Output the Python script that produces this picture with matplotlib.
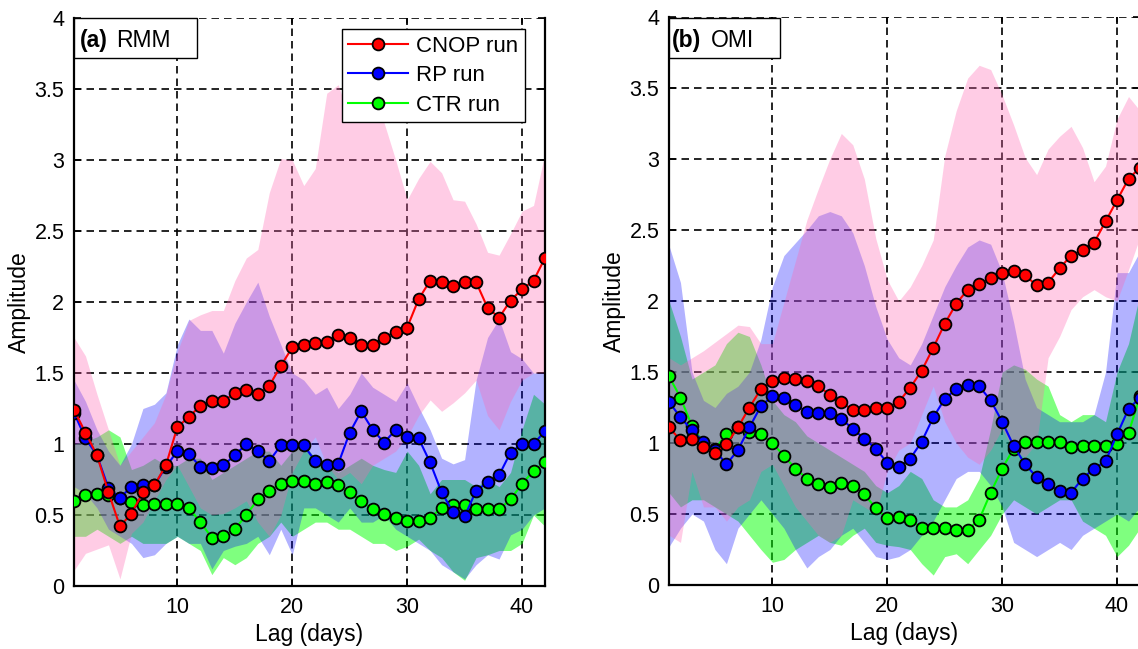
import matplotlib
matplotlib.use('Agg')
import matplotlib.pyplot as plt
from matplotlib.patches import Rectangle

plt.rcParams['font.family'] = ['Liberation Sans', 'DejaVu Sans']

# --- DADOS ---
lag = list(range(1, 43))
xticks = [10, 20, 30, 40]
yticks = [0, 0.5, 1, 1.5, 2, 2.5, 3, 3.5, 4]
ytick_labels = ['0', '0.5', '1', '1.5', '2', '2.5', '3', '3.5', '4']
run_labels = ['CNOP run', 'RP run', 'CTR run']
panel_tags = ['(a)', '(b)']
panel_names = ['RMM', 'OMI']

# painel (a) RMM
cnop_rmm = [1.24, 1.08, 0.92, 0.66, 0.42, 0.51, 0.66, 0.71, 0.85, 1.12, 1.19, 1.27, 1.30, 1.30,
            1.36, 1.38, 1.35, 1.41, 1.55, 1.68, 1.70, 1.71, 1.72, 1.77, 1.75, 1.70, 1.70, 1.75,
            1.79, 1.82, 2.02, 2.15, 2.14, 2.11, 2.14, 2.14, 1.96, 1.89, 2.01, 2.09, 2.15, 2.31]
rp_rmm = [1.22, 1.04, 0.92, 0.69, 0.62, 0.70, 0.71, 0.71, 0.84, 0.95, 0.93, 0.84, 0.83, 0.85,
          0.92, 1.00, 0.95, 0.88, 0.99, 0.99, 0.99, 0.88, 0.85, 0.86, 1.08, 1.23, 1.10, 1.01,
          1.10, 1.05, 1.04, 0.87, 0.66, 0.52, 0.49, 0.67, 0.73, 0.78, 0.94, 1.00, 1.00, 1.09]
ctr_rmm = [0.60, 0.64, 0.65, 0.64, 0.62, 0.59, 0.57, 0.58, 0.58, 0.58, 0.55, 0.45, 0.34, 0.35,
           0.40, 0.50, 0.61, 0.67, 0.72, 0.74, 0.74, 0.72, 0.73, 0.71, 0.66, 0.60, 0.54, 0.51,
           0.48, 0.46, 0.46, 0.48, 0.55, 0.57, 0.57, 0.54, 0.54, 0.54, 0.61, 0.72, 0.81, 0.87]

cnop_hi_rmm = [1.75, 1.62, 1.35, 1.10, 0.85, 0.95, 1.05, 1.15, 1.35, 1.65, 1.87, 1.91, 1.94, 1.94,
               2.15, 2.31, 2.37, 2.77, 3.01, 3.00, 2.82, 2.94, 3.47, 3.53, 3.29, 3.27, 3.49, 3.26,
               3.00, 2.72, 2.87, 2.99, 2.91, 2.72, 2.71, 2.55, 2.35, 2.33, 2.48, 2.64, 2.68, 3.05]
cnop_lo_rmm = [0.11, 0.23, 0.26, 0.29, 0.05, 0.37, 0.45, 0.60, 0.75, 0.85, 0.70, 0.55, 0.50, 0.51,
               0.55, 0.60, 0.45, 0.35, 0.50, 0.80, 0.95, 1.05, 0.85, 0.75, 0.80, 0.72, 0.85, 0.90,
               0.95, 1.05, 1.20, 1.31, 1.23, 1.29, 1.36, 1.45, 1.20, 1.10, 1.30, 1.45, 1.50, 1.50]
rp_hi_rmm = [1.45, 1.30, 1.10, 0.95, 0.85, 1.00, 1.25, 1.28, 1.36, 1.70, 1.88, 1.80, 1.80, 1.64,
             1.85, 2.00, 2.14, 1.90, 1.70, 1.50, 1.45, 1.35, 1.40, 1.25, 1.35, 1.50, 1.40, 1.35,
             1.30, 1.43, 1.26, 1.10, 0.90, 0.86, 0.89, 1.45, 1.75, 1.88, 1.65, 1.60, 1.50, 1.50]
rp_lo_rmm = [0.70, 0.65, 0.55, 0.40, 0.35, 0.30, 0.20, 0.22, 0.30, 0.35, 0.30, 0.30, 0.12, 0.25,
             0.28, 0.30, 0.35, 0.22, 0.40, 0.22, 0.55, 0.55, 0.50, 0.45, 0.55, 0.45, 0.45, 0.50,
             0.40, 0.35, 0.30, 0.25, 0.15, 0.10, 0.05, 0.15, 0.22, 0.19, 0.36, 0.40, 0.50, 0.55]
ctr_hi_rmm = [1.00, 1.02, 1.05, 1.10, 1.05, 0.82, 0.85, 0.90, 0.85, 0.85, 0.90, 0.90, 0.75, 0.80,
              0.85, 0.90, 0.95, 0.95, 0.85, 0.95, 1.00, 0.90, 0.85, 0.80, 0.85, 0.90, 0.85, 0.82,
              0.80, 0.95, 0.85, 0.65, 0.75, 0.75, 0.75, 0.70, 0.75, 0.70, 0.80, 1.10, 1.35, 1.28]
ctr_lo_rmm = [0.35, 0.35, 0.40, 0.35, 0.30, 0.35, 0.30, 0.30, 0.30, 0.35, 0.30, 0.25, 0.08, 0.20,
              0.15, 0.20, 0.30, 0.35, 0.45, 0.35, 0.40, 0.45, 0.45, 0.40, 0.40, 0.35, 0.30, 0.30,
              0.25, 0.28, 0.33, 0.25, 0.20, 0.10, 0.04, 0.20, 0.22, 0.25, 0.25, 0.30, 0.50, 0.42]

# painel (b) OMI
cnop_omi = [1.11, 1.02, 1.03, 0.97, 0.93, 0.99, 1.11, 1.25, 1.38, 1.44, 1.46, 1.45, 1.44, 1.40,
            1.34, 1.29, 1.23, 1.23, 1.25, 1.25, 1.29, 1.39, 1.51, 1.67, 1.84, 1.98, 2.08, 2.12,
            2.16, 2.20, 2.21, 2.18, 2.11, 2.13, 2.23, 2.32, 2.36, 2.41, 2.56, 2.71, 2.86, 2.94]
rp_omi = [1.29, 1.18, 1.09, 1.01, 0.95, 0.85, 0.95, 1.11, 1.26, 1.33, 1.32, 1.27, 1.22, 1.21,
          1.21, 1.17, 1.10, 1.03, 0.96, 0.86, 0.83, 0.89, 1.01, 1.18, 1.31, 1.38, 1.41, 1.40,
          1.30, 1.15, 0.98, 0.85, 0.76, 0.71, 0.66, 0.65, 0.75, 0.82, 0.87, 1.06, 1.24, 1.32]
ctr_omi = [1.47, 1.32, 1.12, 1.00, 0.96, 1.06, 1.11, 1.08, 1.06, 1.00, 0.91, 0.82, 0.75, 0.71,
           0.69, 0.72, 0.70, 0.64, 0.54, 0.47, 0.48, 0.46, 0.40, 0.40, 0.40, 0.39, 0.39, 0.46,
           0.65, 0.82, 0.96, 1.01, 1.01, 1.01, 1.01, 0.97, 0.98, 0.98, 0.98, 0.99, 1.07, 1.33]

cnop_hi_omi = [1.60, 1.55, 1.60, 1.65, 1.71, 1.77, 1.83, 1.82, 1.70, 1.70, 1.99, 2.28, 2.57, 2.79,
               3.00, 3.18, 3.10, 2.86, 2.44, 2.15, 2.00, 2.10, 2.25, 2.43, 3.02, 3.34, 3.57, 3.66,
               3.63, 3.45, 3.24, 3.01, 2.89, 3.07, 3.16, 3.23, 3.08, 2.84, 2.95, 3.28, 3.44, 3.34]
cnop_lo_omi = [0.35, 0.30, 0.80, 0.55, 0.55, 0.45, 0.55, 0.60, 0.80, 0.85, 0.70, 0.55, 0.45, 0.35,
               0.30, 0.35, 0.60, 0.55, 0.50, 0.80, 0.95, 1.00, 1.20, 1.40, 1.15, 1.00, 0.90, 0.85,
               0.95, 1.10, 0.95, 0.90, 1.00, 1.60, 1.75, 1.94, 2.03, 2.08, 2.03, 2.00, 2.22, 2.45]
rp_hi_omi = [2.39, 2.13, 1.50, 1.30, 1.25, 1.35, 1.40, 1.50, 1.73, 2.10, 2.32, 2.41, 2.50, 2.60,
             2.63, 2.60, 2.48, 2.25, 1.96, 1.73, 1.60, 1.55, 1.70, 1.90, 2.10, 2.25, 2.38, 2.43,
             2.40, 2.20, 1.85, 1.45, 1.25, 1.20, 1.15, 1.15, 1.15, 1.20, 1.50, 2.20, 2.20, 2.35]
rp_lo_omi = [0.27, 0.40, 0.50, 0.45, 0.25, 0.15, 0.40, 0.50, 0.60, 0.50, 0.40, 0.25, 0.12, 0.20,
             0.25, 0.35, 0.40, 0.30, 0.20, 0.18, 0.20, 0.25, 0.35, 0.45, 0.60, 0.75, 0.80, 0.80,
             0.70, 0.55, 0.30, 0.25, 0.20, 0.25, 0.30, 0.25, 0.35, 0.40, 0.45, 0.50, 0.45, 0.55]
ctr_hi_omi = [2.00, 1.75, 1.45, 1.50, 1.55, 1.70, 1.78, 1.75, 1.55, 1.30, 1.20, 1.15, 1.05, 1.00,
              0.95, 0.90, 0.85, 0.80, 0.70, 0.65, 0.70, 0.80, 0.75, 0.60, 0.55, 0.55, 0.60, 0.75,
              1.10, 1.50, 1.55, 1.52, 1.45, 1.40, 1.20, 1.15, 1.20, 1.20, 1.15, 1.50, 1.70, 2.05]
ctr_lo_omi = [0.65, 0.55, 0.60, 0.60, 0.55, 0.50, 0.45, 0.35, 0.25, 0.16, 0.18, 0.25, 0.30, 0.35,
              0.30, 0.28, 0.35, 0.40, 0.30, 0.28, 0.27, 0.25, 0.15, 0.07, 0.20, 0.22, 0.15, 0.25,
              0.35, 0.50, 0.60, 0.55, 0.50, 0.55, 0.60, 0.60, 0.45, 0.40, 0.35, 0.20, 0.28, 0.40]

# --- FIGURA ---
W, H = 1138, 649
fig = plt.figure(figsize=(W / 100, H / 100), dpi=100)

def fx(px):
    return px / W

def fy(py):
    return 1 - py / H

FS = 16

def draw_panel(ax, lines, bands, show_legend):
    cnop, rp, ctr = lines
    (c_lo, c_hi), (r_lo, r_hi), (g_lo, g_hi) = bands
    # faixas: verde, azul, rosa (ordem de empilhamento)
    ax.fill_between(lag, g_lo, g_hi, color=(0, 1, 0), alpha=0.5, lw=0, zorder=1)
    ax.fill_between(lag, r_lo, r_hi, color=(0, 0, 1), alpha=0.3, lw=0, zorder=1)
    ax.fill_between(lag, c_lo, c_hi, color=(1, 0.4, 0.7), alpha=0.33, lw=0, zorder=1)

    kw = dict(marker='o', ms=8.5, mec='k', mew=1.3, lw=1.5, zorder=3)
    h3, = ax.plot(lag, ctr, color=(0, 1, 0), **kw)
    h2, = ax.plot(lag, rp, color=(0, 0, 1), **kw)
    h1, = ax.plot(lag, cnop, color=(1, 0, 0), **kw)

    ax.set_xlim(1, 42)
    ax.set_ylim(0, 4)
    ax.set_xticks(xticks)
    ax.set_yticks(yticks)
    ax.set_yticklabels(ytick_labels)
    ax.set_axisbelow(True)
    ax.grid(True, color='k', lw=1.2, ls=(0, (4.5, 3.0)))
    ax.tick_params(direction='in', length=5, width=1.2, labelsize=FS - 0.5,
                   right=True, top=True)
    ax.tick_params(axis='x', pad=8)
    ax.tick_params(axis='y', pad=7)
    for s in ['left', 'right', 'bottom']:
        ax.spines[s].set_linewidth(1.6)
    ax.spines['top'].set_visible(False)
    ax.set_xlabel('Lag (days)', fontsize=FS + 0.5)
    ax.set_ylabel('Amplitude', fontsize=FS + 0.5)
    ax.xaxis.set_label_coords(0.5, -0.065)

    if show_legend:
        leg = ax.legend([h1, h2, h3], run_labels, loc='upper right',
                        bbox_to_anchor=((525 - 74) / 471, 1 - (29 - 18) / 568),
                        borderaxespad=0, fancybox=False, edgecolor='k', framealpha=1,
                        fontsize=FS, handlelength=2.7, handletextpad=0.35,
                        labelspacing=0.38, borderpad=0.3)
        leg.get_frame().set_linewidth(1.0)
        leg.set_zorder(5)

ax_a = fig.add_axes([fx(74), fy(586), 471 / W, 568 / H])
draw_panel(ax_a, (cnop_rmm, rp_rmm, ctr_rmm),
           ((cnop_lo_rmm, cnop_hi_rmm), (rp_lo_rmm, rp_hi_rmm), (ctr_lo_rmm, ctr_hi_rmm)), True)
ax_a.yaxis.set_label_coords((31 - 74) / 471, 0.5)

ax_b = fig.add_axes([fx(669), fy(585), 471 / W, 568 / H])
draw_panel(ax_b, (cnop_omi, rp_omi, ctr_omi),
           ((cnop_lo_omi, cnop_hi_omi), (rp_lo_omi, rp_hi_omi), (ctr_lo_omi, ctr_hi_omi)), False)
ax_b.yaxis.set_label_coords((626 - 669) / 471, 0.5)

# caixas de titulo dos paineis
for (x0, x1, xt, xn), tag, name in zip([(74, 197, 80, 116), (669, 780, 672, 711)],
                                       panel_tags, panel_names):
    fig.add_artist(Rectangle((fx(x0), fy(58)), (x1 - x0) / W, 40 / H,
                             transform=fig.transFigure, fc='white', ec='k', lw=1.0, zorder=6))
    fig.text(fx(xt), fy(47), tag, fontsize=FS + 0.5, fontweight='bold', va='baseline', zorder=7)
    fig.text(fx(xn), fy(47), name, fontsize=FS + 0.5, va='baseline', zorder=7)

fig.savefig('out.png', dpi=100)
